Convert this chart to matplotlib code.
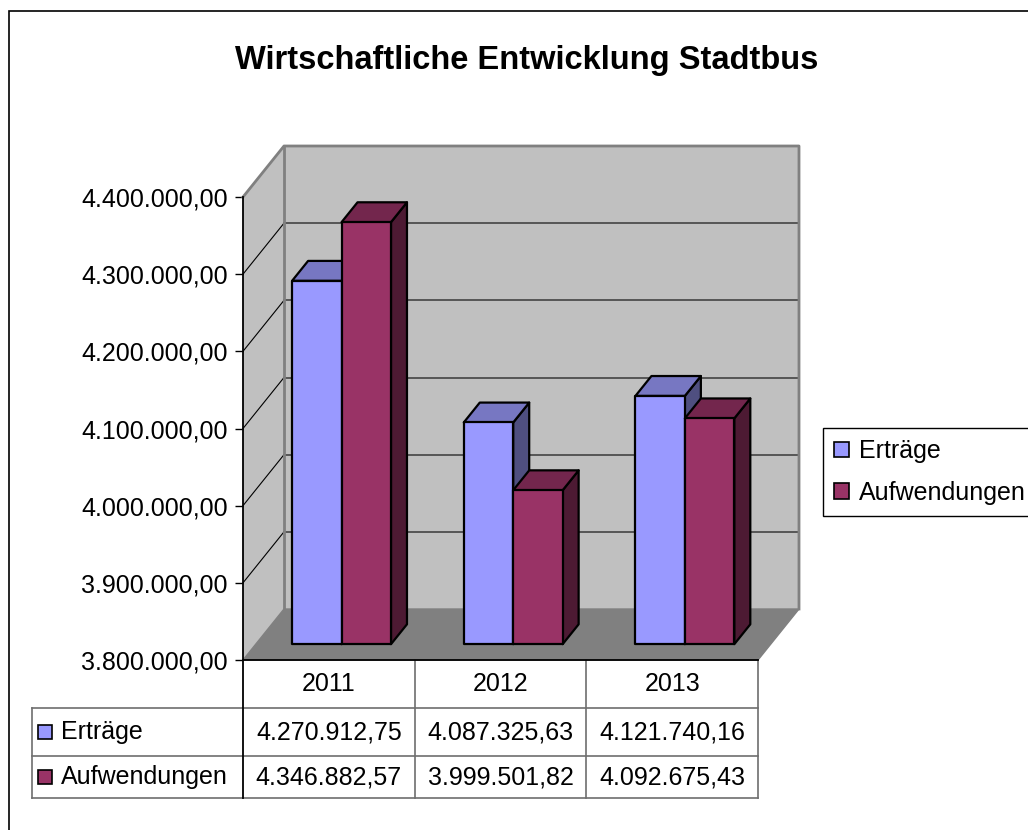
import matplotlib
matplotlib.use("Agg")
import matplotlib.pyplot as plt
from matplotlib.patches import Polygon, Rectangle, Patch
from matplotlib.ticker import FuncFormatter, MultipleLocator
from matplotlib.transforms import blended_transform_factory

# data
years = ["2011", "2012", "2013"]
series_names = ["Erträge", "Aufwendungen"]
ertraege = [4270912.75, 4087325.63, 4121740.16]
aufwendungen = [4346882.57, 3999501.82, 4092675.43]
y_min, y_max, y_step = 3800000, 4400000, 100000

# colours: front, top, side
bar_colors = [
    ("#9999FF", "#7777C2", "#4F4F80"),
    ("#993366", "#73264D", "#4D1A33"),
]
wall_color = "#C0C0C0"
floor_color = "#808080"


def de_format(v):
    s = f"{v:,.2f}"
    return s.replace(",", "X").replace(".", ",").replace("X", ".")


plt.rcParams["font.family"] = ["Liberation Sans", "DejaVu Sans"]
FS = 18

W, H = 1028, 830
fig = plt.figure(figsize=(W / 100, H / 100), dpi=100)

# front plane of the 3D box
ax = fig.add_axes([243 / W, 1 - 660 / H, 515 / W, 463 / H])
n = len(years)
ax.set_xlim(0, n)
ax.set_ylim(y_min, y_max)

# depth of the box in data units
DX = 41 / (515 / n)
DY = 51 / 463 * (y_max - y_min)

# walls
ax.add_patch(Polygon([(0, y_min), (DX, y_min + DY), (DX, y_max + DY), (0, y_max)],
                     closed=True, facecolor=wall_color, edgecolor="none", clip_on=False, zorder=1))
ax.add_patch(Polygon([(DX, y_min + DY), (n + DX, y_min + DY), (n + DX, y_max + DY), (DX, y_max + DY)],
                     closed=True, facecolor=wall_color, edgecolor="none", clip_on=False, zorder=1))

# gridlines
tick_values = list(range(y_min, y_max + 1, y_step))
for v in tick_values[1:-1]:
    ax.plot([0, DX], [v, v + DY], color="black", lw=0.8, clip_on=False, zorder=1.5)
    ax.plot([DX, n + DX], [v + DY, v + DY], color="#4D4D4D", lw=1.3, clip_on=False, zorder=1.5)

# wall edges
ax.plot([0, DX, n + DX, n + DX], [y_max, y_max + DY, y_max + DY, y_min + DY],
        color="#808080", lw=2, clip_on=False, zorder=1.6)
ax.plot([DX, DX], [y_min + DY, y_max + DY], color="#808080", lw=2, clip_on=False, zorder=1.6)

# floor
ax.add_patch(Polygon([(0, y_min), (n, y_min), (n + DX, y_min + DY), (DX, y_min + DY)],
                     closed=True, facecolor=floor_color, edgecolor=floor_color, lw=1,
                     clip_on=False, zorder=2))

# bars
d0, d1 = 0.31, 0.70
bar_w = 0.288
for i in range(n):
    for j, values in enumerate([ertraege, aufwendungen]):
        v = values[i]
        front_c, top_c, side_c = bar_colors[j]
        x0 = i + 0.5 - bar_w + j * bar_w + d0 * DX
        x1 = x0 + bar_w
        xs = (d1 - d0) * DX
        ys = (d1 - d0) * DY
        b = y_min + d0 * DY
        t = v + d0 * DY
        side = [(x1, b), (x1 + xs, b + ys), (x1 + xs, t + ys), (x1, t)]
        top = [(x0, t), (x1, t), (x1 + xs, t + ys), (x0 + xs, t + ys)]
        front = [(x0, b), (x1, b), (x1, t), (x0, t)]
        for poly, c in [(side, side_c), (top, top_c), (front, front_c)]:
            ax.add_patch(Polygon(poly, closed=True, facecolor=c, edgecolor="black",
                                 lw=1.6, joinstyle="round", clip_on=False, zorder=3))

# axis styling
for s in ["top", "right", "bottom", "left"]:
    ax.spines[s].set_visible(False)
ax.patch.set_visible(False)
ax.set_xticks([])
ax.yaxis.set_major_locator(MultipleLocator(y_step))
ax.yaxis.set_major_formatter(FuncFormatter(lambda v, p: de_format(v)))
ax.tick_params(axis="y", length=6, width=1, labelsize=FS, pad=5, color="black")

# data table below the plot
tr = blended_transform_factory(ax.transData, ax.transAxes)
px = 463.0
r0, r1, r2, r3 = 0, -48 / px, -96 / px, -138 / px
x_lab = -(243 - 32) / (515 / n)
line_kw = dict(color="#6E6E6E", lw=1.2, transform=tr, clip_on=False, zorder=5)

ax.plot([0, 0], [1, r3], color="black", lw=1.3, transform=tr, clip_on=False, zorder=6)
ax.plot([0, n], [r0, r0], color="black", lw=1.3, transform=tr, clip_on=False, zorder=6)
for y in [r1, r2, r3]:
    ax.plot([x_lab, n], [y, y], **line_kw)
ax.plot([x_lab, x_lab], [r1, r3], **line_kw)
for x in range(1, n + 1):
    ax.plot([x, x], [r0, r3], **line_kw)

for i, yr in enumerate(years):
    ax.text(i + 0.5, (r0 + r1) / 2, yr, transform=tr, ha="center", va="center", fontsize=FS)

row_mid = [(r1 + r2) / 2, (r2 + r3) / 2]
marker_x = -(243 - 45) / (515 / n)
text_x = -(243 - 61) / (515 / n)
for j, (name, values) in enumerate(zip(series_names, [ertraege, aufwendungen])):
    ax.plot([marker_x], [row_mid[j]], marker="s", markersize=10, markerfacecolor=bar_colors[j][0],
            markeredgecolor="black", markeredgewidth=1.2, transform=tr, clip_on=False, zorder=6)
    ax.text(text_x, row_mid[j], name, transform=tr, ha="left", va="center", fontsize=FS)
    for i, v in enumerate(values):
        ax.text(i + 0.5, row_mid[j], de_format(v), transform=tr,
                ha="center", va="center", fontsize=FS)

# legend
handles = [Patch(facecolor=bar_colors[j][0], edgecolor="black", lw=1.2) for j in range(2)]
leg = fig.legend(handles, series_names, loc="upper left", bbox_to_anchor=(823 / W, 1 - 428 / H),
                 fontsize=FS, frameon=True, fancybox=False, edgecolor="black", framealpha=1,
                 handlelength=0.6, handleheight=0.6, handletextpad=0.4, borderpad=0.45,
                 labelspacing=0.7, borderaxespad=0)
leg.get_frame().set_linewidth(1.0)

# title and outer frame
fig.text(527 / W, 1 - 60 / H, "Wirtschaftliche Entwicklung Stadtbus", ha="center", va="center",
         fontsize=23.5, fontweight="bold")
fig.add_artist(Rectangle((9 / W, -0.1), 1.2, 1.1 - 11 / H, transform=fig.transFigure,
                         fill=False, edgecolor="black", lw=1.2))

fig.savefig("out.png", dpi=100)
